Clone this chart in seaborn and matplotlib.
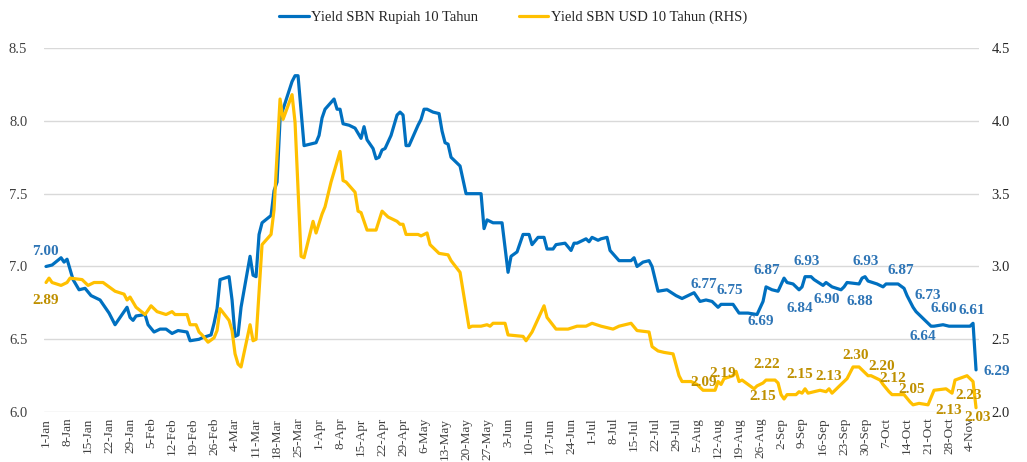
# ==========================================================
# Yield SBN Rupiah vs USD 10 Tahun (2020)
# ==========================================================

import pandas as pd
import matplotlib.pyplot as plt
import seaborn as sns

# ----------------------------------------------------------
# Data (day offset from 1-Jan-2020, yield %)
# ----------------------------------------------------------

day_rp = [0, 2, 5, 6, 7, 9, 11, 13, 15, 18, 21, 23, 27, 28, 29, 30, 33, 34, 36, 38,
          40, 42, 44, 47, 48, 51, 52, 55, 56, 57, 58, 61, 62, 63, 64, 65, 68, 69, 70, 71,
          72, 75, 76, 77, 78, 79, 82, 83, 84, 86, 90, 91, 92, 93, 96, 97, 98, 99, 101, 103,
          105, 106, 107, 109, 110, 111, 112, 113, 115, 117, 118, 119, 120, 121, 124, 125, 126, 127, 129, 131,
          132, 133, 134, 135, 138, 140, 145, 146, 147, 149, 152, 154, 155, 157, 159, 161, 162, 164, 166, 167,
          169, 170, 173, 175, 176, 177, 180, 181, 182, 184, 185, 187, 188, 191, 195, 196, 197, 199, 201, 202,
          204, 207, 210, 212, 214, 216, 218, 220, 222, 224, 225, 229, 231, 234, 237, 239, 240, 242, 244, 246,
          247, 249, 251, 252, 253, 255, 256, 259, 260, 262, 265, 266, 267, 271, 272, 273, 274, 277, 279, 280,
          284, 286, 287, 289, 290, 295, 296, 299, 301, 308, 309, 310]
yield_rp = [7.00, 7.01, 7.06, 7.03, 7.05, 6.91, 6.84, 6.85, 6.80, 6.77, 6.68, 6.60, 6.72, 6.65, 6.63, 6.66, 6.67, 6.60, 6.55, 6.57,
            6.57, 6.54, 6.56, 6.55, 6.49, 6.50, 6.51, 6.53, 6.61, 6.71, 6.91, 6.93, 6.77, 6.52, 6.53, 6.72, 7.07, 6.94, 6.93, 7.22,
            7.30, 7.35, 7.52, 7.58, 8.01, 8.08, 8.27, 8.31, 8.31, 7.83, 7.85, 7.90, 8.02, 8.08, 8.15, 8.08, 8.08, 7.98, 7.97, 7.95,
            7.88, 7.96, 7.87, 7.81, 7.74, 7.75, 7.80, 7.81, 7.90, 8.04, 8.06, 8.04, 7.83, 7.83, 7.97, 8.01, 8.08, 8.08, 8.06, 8.05,
            7.93, 7.85, 7.84, 7.75, 7.69, 7.50, 7.50, 7.26, 7.32, 7.30, 7.30, 6.96, 7.07, 7.10, 7.22, 7.22, 7.15, 7.20, 7.20, 7.12,
            7.12, 7.15, 7.16, 7.11, 7.16, 7.16, 7.19, 7.17, 7.20, 7.18, 7.19, 7.20, 7.11, 7.04, 7.04, 7.06, 7.00, 7.03, 7.04, 7.00,
            6.83, 6.84, 6.80, 6.78, 6.80, 6.82, 6.76, 6.77, 6.76, 6.72, 6.74, 6.74, 6.68, 6.68, 6.67, 6.76, 6.86, 6.84, 6.83, 6.92,
            6.89, 6.88, 6.84, 6.86, 6.93, 6.93, 6.91, 6.87, 6.89, 6.86, 6.84, 6.86, 6.89, 6.88, 6.92, 6.93, 6.90, 6.88, 6.86, 6.88,
            6.88, 6.85, 6.80, 6.72, 6.69, 6.59, 6.59, 6.60, 6.59, 6.59, 6.61, 6.29]

day_usd = [0, 1, 2, 5, 7, 8, 12, 14, 16, 19, 21, 23, 26, 27, 28, 30, 33, 35, 37, 40,
           42, 43, 47, 48, 50, 51, 52, 54, 56, 57, 58, 61, 62, 63, 64, 65, 68, 69, 70, 72,
           75, 76, 78, 79, 82, 83, 85, 86, 89, 90, 92, 93, 95, 98, 99, 100, 103, 104, 105, 107,
           110, 112, 114, 117, 118, 119, 120, 124, 125, 127, 128, 131, 134, 135, 138, 141, 142, 145, 147, 148,
           149, 153, 154, 159, 160, 162, 164, 166, 167, 170, 174, 177, 180, 182, 185, 189, 191, 195, 197, 201,
           202, 204, 206, 209, 211, 212, 215, 217, 219, 223, 224, 225, 226, 229, 230, 231, 232, 234, 236, 237,
           239, 240, 243, 244, 245, 246, 247, 250, 251, 252, 253, 254, 258, 260, 261, 262, 265, 267, 269, 271,
           272, 274, 275, 278, 279, 281, 282, 286, 288, 289, 291, 294, 296, 300, 302, 303, 307, 309, 310]
yield_usd = [2.89, 2.92, 2.89, 2.87, 2.89, 2.92, 2.91, 2.87, 2.89, 2.89, 2.86, 2.83, 2.81, 2.77, 2.79, 2.72, 2.67, 2.73, 2.69, 2.67,
             2.69, 2.67, 2.67, 2.60, 2.60, 2.55, 2.53, 2.48, 2.51, 2.56, 2.71, 2.63, 2.56, 2.40, 2.33, 2.31, 2.60, 2.49, 2.50, 3.15,
             3.22, 3.39, 4.15, 4.01, 4.18, 3.99, 3.07, 3.06, 3.31, 3.23, 3.36, 3.41, 3.58, 3.79, 3.59, 3.58, 3.51, 3.38, 3.37, 3.25,
             3.25, 3.38, 3.34, 3.31, 3.29, 3.29, 3.22, 3.22, 3.21, 3.23, 3.15, 3.09, 3.08, 3.04, 2.96, 2.58, 2.59, 2.59, 2.60, 2.59,
             2.61, 2.61, 2.53, 2.52, 2.49, 2.55, 2.64, 2.73, 2.65, 2.57, 2.57, 2.59, 2.59, 2.61, 2.59, 2.57, 2.59, 2.61, 2.56, 2.55,
             2.45, 2.42, 2.41, 2.40, 2.25, 2.21, 2.21, 2.19, 2.15, 2.15, 2.21, 2.19, 2.23, 2.25, 2.28, 2.21, 2.22, 2.19, 2.16, 2.18,
             2.20, 2.22, 2.22, 2.20, 2.12, 2.09, 2.12, 2.12, 2.14, 2.13, 2.16, 2.13, 2.15, 2.14, 2.16, 2.13, 2.19, 2.23, 2.31, 2.31,
             2.29, 2.25, 2.25, 2.22, 2.19, 2.14, 2.12, 2.12, 2.07, 2.05, 2.06, 2.05, 2.15, 2.16, 2.13, 2.22, 2.25, 2.21, 2.03]

# data labels
lbl_rp = [7.00, 6.77, 6.75, 6.69, 6.87, 6.93, 6.84, 6.90, 6.88, 6.93, 6.87, 6.73, 6.64, 6.60, 6.61, 6.29]
lbl_usd = [2.89, 2.09, 2.19, 2.15, 2.22, 2.15, 2.13, 2.30, 2.20, 2.12, 2.05, 2.13, 2.23, 2.03]

# label placement (day, axis value)
pos_rp = [(-0.1, 7.106), (219.1, 6.879), (228.0, 6.833), (238.3, 6.620), (240.2, 6.975),
          (253.6, 7.037), (251.1, 6.712), (260.2, 6.774), (271.3, 6.758), (273.2, 7.032),
          (285.0, 6.970), (293.9, 6.804), (292.4, 6.517), (299.4, 6.712), (308.6, 6.700),
          (316.9, 6.279)]
pos_usd = [(0.0, 2.769), (219.1, 2.201), (225.6, 2.266), (238.9, 2.110), (240.2, 2.330),
           (251.3, 2.261), (260.8, 2.242), (269.9, 2.391), (278.6, 2.316), (282.4, 2.231),
           (288.6, 2.156), (300.8, 2.014), (307.4, 2.117), (310.5, 1.962)]

start = pd.Timestamp("2020-01-01")

df_rp = pd.DataFrame({"Tanggal": start + pd.to_timedelta(day_rp, unit="D"), "Yield": yield_rp})
df_usd = pd.DataFrame({"Tanggal": start + pd.to_timedelta(day_usd, unit="D"), "Yield": yield_usd})

BLUE = "#0070C0"
YELLOW = "#FFC000"
BLUE_TXT = "#2E75B6"
YELLOW_TXT = "#BF9000"

sns.set_style("white")
plt.rcParams["font.family"] = ["Liberation Serif", "DejaVu Serif"]

# ----------------------------------------------------------
# Plot
# ----------------------------------------------------------

fig = plt.figure(figsize=(10.27, 4.62), dpi=100)
ax = fig.add_axes([0.0428, 0.108, 0.9105, 0.788])
ax2 = ax.twinx()

sns.lineplot(data=df_rp, x="Tanggal", y="Yield", ax=ax, color=BLUE, lw=2.3,
             label="Yield SBN Rupiah 10 Tahun")
sns.lineplot(data=df_usd, x="Tanggal", y="Yield", ax=ax2, color=YELLOW, lw=2.3,
             label="Yield SBN USD 10 Tahun (RHS)")

ax.set_ylim(6.0, 8.5)
ax2.set_ylim(2.0, 4.5)
ax.set_yticks([6.0, 6.5, 7.0, 7.5, 8.0, 8.5])
ax2.set_yticks([2.0, 2.5, 3.0, 3.5, 4.0, 4.5])
ax.set_yticklabels([f"{v:.1f}" for v in ax.get_yticks()], fontsize=10.5, color="#404040")
ax2.set_yticklabels([f"{v:.1f}" for v in ax2.get_yticks()], fontsize=10.5, color="#262626")

ax.set_xlim(start - pd.Timedelta(days=0.7), start + pd.Timedelta(days=311))
ticks = pd.date_range("2020-01-01", "2020-11-04", freq="7D")
ax.set_xticks(ticks)
ax.set_xticklabels([f"{t.day}-{t.strftime('%b')}" for t in ticks], rotation=90,
                   fontsize=9.5, color="#404040")

ax.grid(axis="y", color="#D9D9D9", lw=1)
ax.set_axisbelow(True)
for a in (ax, ax2):
    for s in a.spines.values():
        s.set_visible(False)
    a.set_xlabel("")
    a.set_ylabel("")
ax.tick_params(axis="both", length=0, pad=12)
ax.tick_params(axis="x", pad=4)
ax2.tick_params(axis="y", length=0, pad=9)

# data labels
for v, (d, y) in zip(lbl_rp, pos_rp):
    ax.text(start + pd.Timedelta(days=d), y, f"{v:.2f}", ha="center", va="center",
            fontsize=11, fontweight="bold", color=BLUE_TXT)
for v, (d, y) in zip(lbl_usd, pos_usd):
    ax2.text(start + pd.Timedelta(days=d), y, f"{v:.2f}", ha="center", va="center",
             fontsize=11, fontweight="bold", color=YELLOW_TXT)

# legend
h1, l1 = ax.get_legend_handles_labels()
h2, l2 = ax2.get_legend_handles_labels()
ax.get_legend().remove()
ax2.get_legend().remove()
fig.legend(h1 + h2, l1 + l2, loc="center", bbox_to_anchor=(0.5, 0.962), ncol=2,
           frameon=False, fontsize=10.5, handlelength=2.0, handletextpad=0.2,
           columnspacing=2.8, labelcolor="#262626")

plt.savefig("out.png", dpi=100)
plt.close()
